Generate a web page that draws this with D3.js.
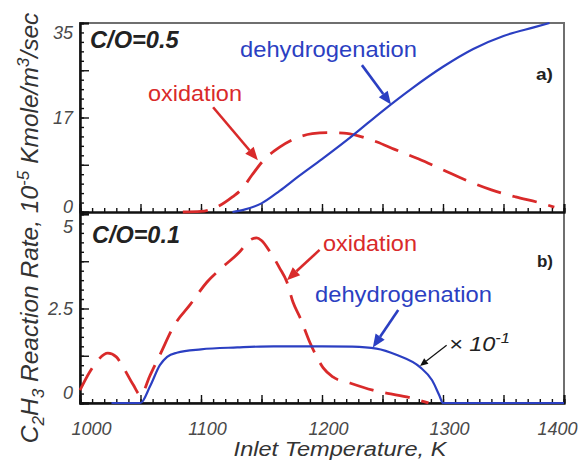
<!DOCTYPE html>
<html>
<head>
<meta charset="utf-8">
<script src="https://cdn.jsdelivr.net/npm/d3@7"></script>
<style>
  body { margin: 0; background: #fff; }
  svg { display: block; }
</style>
</head>
<body>
<svg id="chart" width="581" height="462"></svg>
<script>
// ---- data ----
// panel a) C/O = 0.5, rate in 10^-5 Kmole/m3/sec
const tempOxA = [1085, 1100, 1112, 1126, 1134, 1142, 1151, 1165, 1180, 1192, 1205, 1218, 1230, 1245, 1260, 1280, 1300, 1320, 1340, 1360, 1380, 1392];
const rateOxA = [0, 0.1, 0.8, 2.8, 4.3, 6.8, 9.4, 12.0, 13.8, 14.5, 14.7, 14.6, 14.1, 13.0, 11.6, 9.8, 7.8, 5.8, 4.1, 2.8, 1.7, 0.9];
const tempDehA = [1126, 1135, 1150, 1165, 1180, 1200, 1225, 1250, 1275, 1300, 1325, 1350, 1375, 1388];
const rateDehA = [0, 0.4, 1.6, 3.9, 6.5, 9.8, 14.1, 18.7, 23.0, 26.9, 30.2, 32.6, 34.2, 35];

// panel b) C/O = 0.1 (dehydrogenation shown x 10^-1)
const tempOxB = [1000, 1008, 1015, 1023, 1030, 1036, 1044, 1050, 1058, 1066, 1078, 1091, 1105, 1118, 1132, 1140, 1146, 1150, 1157, 1165, 1171, 1176, 1182, 1190, 1196, 1201, 1209, 1223, 1242, 1270, 1288];
const rateOxB = [0.34, 0.82, 1.14, 1.32, 1.22, 0.93, 0.48, 0.21, 0.74, 1.27, 2.06, 2.6, 3.2, 3.6, 4.0, 4.3, 4.37, 4.3, 4.0, 3.57, 3.2, 2.67, 2.25, 1.6, 1.2, 0.93, 0.69, 0.53, 0.34, 0.16, 0];
const tempDehB = [1026, 1050, 1058, 1066, 1072, 1080, 1100, 1130, 1160, 1200, 1225, 1245, 1262, 1281, 1291, 1297, 1300, 1400];
const rateDehB = [0, 0, 0.45, 1.0, 1.22, 1.33, 1.42, 1.47, 1.5, 1.5, 1.49, 1.44, 1.27, 0.95, 0.6, 0.2, 0, 0];

// ticks
const xTickValues = [1000, 1100, 1200, 1300, 1400];
const xTickLabels = ["1000", "1100", "1200", "1300", "1400"];
const yTickValuesA = [0, 17.5, 35];
const yTickLabelsA = ["0", "17", "35"];
const yTickValuesB = [0, 2.5, 5];
const yTickLabelsB = ["0", "2.5", "5"];

// ---- look ----
const FONT = "'Liberation Sans', Arial, Helvetica, sans-serif";
const BLUE = "#2b3fc2";
const RED = "#d92a2a";
const TEXT = "#222";

const svg = d3.select("#chart");

const x = d3.scaleLinear().domain([1000, 1400]).range([80, 564]);
const yA = d3.scaleLinear().domain([0, 35]).range([212, 23]);
const yB = d3.scaleLinear().domain([0, 5]).range([403, 214]);

// text helper: parts may be sub/superscript, box gets stretched to a given width
function addText(parent, px, py, parts, opt) {
  const g = parent.append("g");
  const t = g.append("text")
    .attr("font-family", FONT)
    .attr("font-size", opt.size)
    .attr("font-weight", opt.weight || "normal")
    .attr("font-style", opt.style || "normal")
    .attr("fill", opt.fill || TEXT)
    .attr("text-anchor", opt.anchor || "start");
  let shift = 0;
  parts.forEach(p => {
    const s = typeof p === "string" ? { t: p } : p;
    const target = s.sup ? -opt.size * 0.4 : s.sub ? opt.size * 0.25 : 0;
    const ts = t.append("tspan").text(s.t).attr("dy", target - shift);
    if (s.sup || s.sub) ts.attr("font-size", opt.size * 0.7);
    shift = target;
  });
  const w = t.node().getBBox().width;
  const sx = opt.width ? opt.width / w : 1;
  g.attr("transform", `translate(${px},${py})` + (opt.rotate ? ` rotate(${opt.rotate})` : "") + ` scale(${sx},1)`);
  return g;
}

function arrow(parent, from, to, color, width, headLen, headW) {
  const [x1, y1] = from, [x2, y2] = to;
  const a = Math.atan2(y2 - y1, x2 - x1);
  const bx = x2 - headLen * Math.cos(a), by = y2 - headLen * Math.sin(a);
  parent.append("line")
    .attr("x1", x1).attr("y1", y1).attr("x2", bx).attr("y2", by)
    .attr("stroke", color).attr("stroke-width", width);
  const nx = -Math.sin(a) * headW, ny = Math.cos(a) * headW;
  parent.append("path")
    .attr("d", `M${x2},${y2}L${bx + nx},${by + ny}L${bx - nx},${by - ny}Z`)
    .attr("fill", color);
}

// ---- frame ----
svg.append("rect")
  .attr("x", 80).attr("y", 23).attr("width", 484).attr("height", 380)
  .attr("fill", "none").attr("stroke", "#6f6f6f").attr("stroke-width", 2);

// labelInset: how far the end labels are pulled inside the panel [top, bottom]
function drawPanel(y, top, bottom, majorStep, yTickValues, yTickLabels, labelInset, withXLabels) {
  const g = svg.append("g");
  const yMinor = d3.range(y.domain()[0], y.domain()[1] + 1e-9, majorStep / 5);
  const yMajor = d3.range(y.domain()[0], y.domain()[1] + 1e-9, majorStep);

  // left axis, ticks pointing in
  g.append("g").attr("transform", "translate(80,0)")
    .call(d3.axisLeft(y).tickValues(yMinor).tickSize(-4).tickFormat(""));
  const lab = g.append("g").attr("transform", "translate(80,0)")
    .call(d3.axisLeft(y).tickValues(yMajor).tickSize(-9).tickPadding(7)
      .tickFormat(v => {
        const i = yTickValues.findIndex(t => Math.abs(t - v) < 1e-6);
        return i < 0 ? "" : yTickLabels[i];
      }));
  lab.selectAll("text").each(function (v) {
    const c = Math.max(top + labelInset[0], Math.min(bottom - labelInset[1], y(v)));
    d3.select(this).attr("y", c - y(v));
  });

  // bottom axis
  const xMinor = d3.range(1000, 1401, 10);
  const xMajor = d3.range(1000, 1401, 50);
  g.append("g").attr("transform", `translate(0,${bottom})`)
    .call(d3.axisBottom(x).tickValues(xMinor).tickSize(-4).tickFormat(""));
  const xl = g.append("g").attr("transform", `translate(0,${bottom})`)
    .call(d3.axisBottom(x).tickValues(xMajor).tickSize(-8).tickPadding(19)
      .tickFormat(v => {
        const i = xTickValues.indexOf(v);
        return withXLabels && i >= 0 ? xTickLabels[i] : "";
      }));
  xl.selectAll("text").each(function (v) {
    const c = Math.max(91, Math.min(557, x(v) + 6));
    d3.select(this).attr("x", c - x(v));
  });

  g.selectAll(".domain").attr("stroke", "#111").attr("stroke-width", 2);
  g.selectAll(".tick line").attr("stroke", "#111").attr("stroke-width", 1.4);
  g.selectAll(".tick text")
    .attr("font-family", FONT).attr("font-size", 18)
    .attr("font-style", "italic").attr("fill", "#4a4a4a");
  return g;
}

drawPanel(yA, 23, 212, 8.75, yTickValuesA, yTickLabelsA, [10, 5], false);
drawPanel(yB, 212, 403, 1.25, yTickValuesB, yTickLabelsB, [15, 10], true);

// ---- curves ----
function series(temps, rates, y, color, dashed) {
  const line = d3.line().x(d => x(d[0])).y(d => y(d[1])).curve(d3.curveMonotoneX);
  svg.append("path")
    .datum(d3.zip(temps, rates))
    .attr("d", line)
    .attr("fill", "none")
    .attr("stroke", color)
    .attr("stroke-width", dashed ? 2.8 : 2.2)
    .attr("stroke-dasharray", dashed ? "25,12" : null)
    .attr("stroke-linejoin", "round");
}

series(tempOxA, rateOxA, yA, RED, true);
series(tempDehA, rateDehA, yA, BLUE, false);
series(tempOxB, rateOxB, yB, RED, true);
series(tempDehB, rateDehB, yB, BLUE, false);

// ---- annotations ----
const ann = svg.append("g");
const P = (T, v, y) => [x(T), y(v)];

addText(ann, 90, 48, ["C/O=0.5"], { size: 23, weight: "bold", style: "italic", width: 90 });
addText(ann, 240, 57, ["dehydrogenation"], { size: 22.5, fill: BLUE, width: 177 });
addText(ann, 148, 101, ["oxidation"], { size: 22.5, fill: RED, width: 94 });
addText(ann, 536, 80, ["a)"], { size: 17, weight: "bold", width: 17 });
arrow(ann, P(1233, 27.2, yA), P(1257, 19.9, yA), BLUE, 2.6, 13, 5.5);
arrow(ann, P(1110, 19.4, yA), P(1147, 9.6, yA), RED, 2.6, 13, 5.5);

addText(ann, 92, 243, ["C/O=0.1"], { size: 23, weight: "bold", style: "italic", width: 88 });
addText(ann, 323, 251, ["oxidation"], { size: 22.5, fill: RED, width: 94 });
addText(ann, 537, 267, ["b)"], { size: 17, weight: "bold", width: 16 });
addText(ann, 315, 302, ["dehydrogenation"], { size: 22.5, fill: BLUE, width: 177 });
addText(ann, 449, 351, ["\u00d7 10", { t: "-1", sup: true }], { size: 21, style: "italic", width: 61 });
arrow(ann, P(1198, 4.05, yB), P(1171, 3.25, yB), RED, 2.6, 13, 5.5);
arrow(ann, P(1263, 2.46, yB), P(1242, 1.47, yB), BLUE, 2.6, 13, 5.5);
arrow(ann, P(1303, 1.53, yB), P(1281, 0.98, yB), "#111", 1.2, 8, 3.5);

// ---- axis titles ----
addText(svg, 340, 456, ["Inlet Temperature, K"], { size: 21, style: "italic", fill: "#333", anchor: "middle", width: 214 });
addText(svg, 38, 228, ["C", { t: "2", sub: true }, "H", { t: "3", sub: true }, " Reaction Rate, 10",
  { t: "-5", sup: true }, " Kmole/m", { t: "3", sup: true }, "/sec"],
  { size: 23.5, style: "italic", fill: "#333", anchor: "middle", rotate: -90, width: 431 });
</script>
</body>
</html>
